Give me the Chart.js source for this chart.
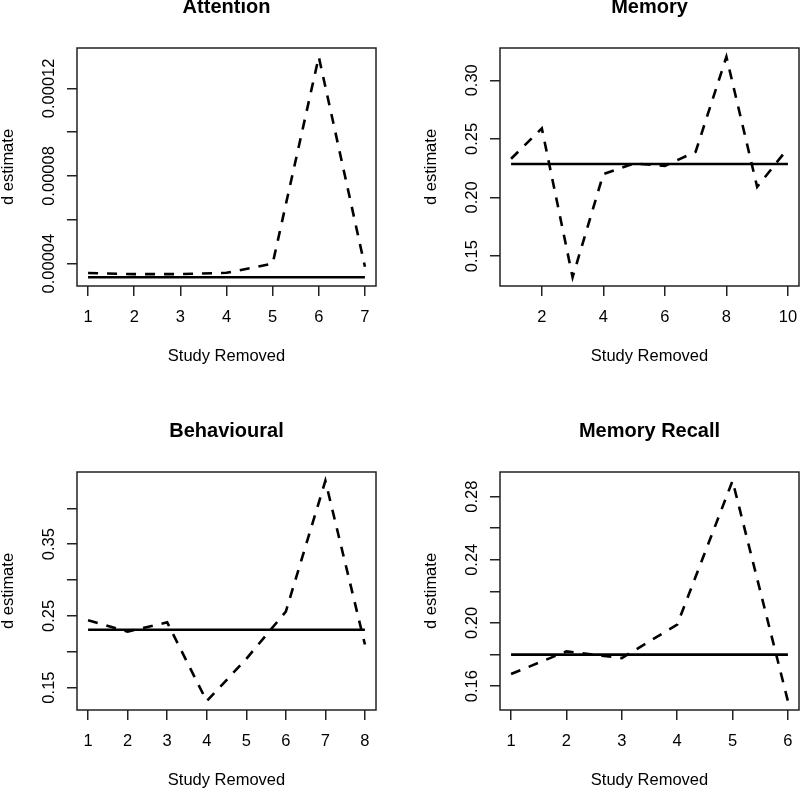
<!DOCTYPE html>
<html>
<head>
<meta charset="utf-8">
<script src="https://cdn.jsdelivr.net/npm/chart.js@4"></script>
<style>
  html, body { margin: 0; padding: 0; background: #fff; }
  #wrap { position: relative; width: 800px; height: 790px; overflow: hidden; }
  #wrap canvas { position: absolute; }
</style>
</head>
<body>
<div id="wrap">
  <canvas id="attention" width="400" height="400" style="left:0;top:-12px"></canvas>
  <canvas id="memory" width="400" height="400" style="left:423px;top:-12px"></canvas>
  <canvas id="behavioural" width="400" height="400" style="left:0;top:412px"></canvas>
  <canvas id="recall" width="400" height="400" style="left:423px;top:412px"></canvas>
</div>
<script>
// Data (d estimate with one study removed, plus overall estimate) ---------------
const attentionStudy = [1, 2, 3, 4, 5, 6, 7];
const attentionLeaveOut = [0.0000357, 0.0000352, 0.0000352, 0.0000358, 0.0000400, 0.0001344, 0.0000386];
const attentionOverall = 0.0000338;
const attentionXTicks = [1, 2, 3, 4, 5, 6, 7];
const attentionYTicks = [0.00004, 0.00006, 0.00008, 0.00010, 0.00012];
const attentionYLabels = ['0.00004', '', '0.00008', '', '0.00012'];

const memoryStudy = [1, 2, 3, 4, 5, 6, 7, 8, 9, 10];
const memoryLeaveOut = [0.233, 0.259, 0.132, 0.220, 0.229, 0.227, 0.239, 0.320, 0.209, 0.242];
const memoryOverall = 0.2285;
const memoryXTicks = [2, 4, 6, 8, 10];
const memoryYTicks = [0.15, 0.20, 0.25, 0.30];
const memoryYLabels = ['0.15', '0.20', '0.25', '0.30'];

const behaviouralStudy = [1, 2, 3, 4, 5, 6, 7, 8];
const behaviouralLeaveOut = [0.244, 0.228, 0.241, 0.131, 0.190, 0.256, 0.4385, 0.210];
const behaviouralOverall = 0.2306;
const behaviouralXTicks = [1, 2, 3, 4, 5, 6, 7, 8];
const behaviouralYTicks = [0.15, 0.20, 0.25, 0.30, 0.35, 0.40];
const behaviouralYLabels = ['0.15', '', '0.25', '', '0.35', ''];

const recallStudy = [1, 2, 3, 4, 5, 6];
const recallLeaveOut = [0.1677, 0.182, 0.1778, 0.199, 0.290, 0.1505];
const recallOverall = 0.180;
const recallXTicks = [1, 2, 3, 4, 5, 6];
const recallYTicks = [0.16, 0.18, 0.20, 0.22, 0.24, 0.26, 0.28];
const recallYLabels = ['0.16', '', '0.20', '', '0.24', '', '0.28'];

// ----------------------------------------------------------------------------------

const FONT = '"Liberation Sans", Arial, Helvetica, sans-serif';
const INK = '#222';
const TXT = 16.5;
Chart.defaults.font.family = FONT;
Chart.defaults.color = '#000';

// R-style axis range: data range stretched by 4% on each side
function paddedRange(values) {
  const lo = Math.min(...values);
  const hi = Math.max(...values);
  const pad = (hi - lo) * 0.04;
  return [lo - pad, hi + pad];
}

// box around the plot region and rotated y tick labels (R's las = 0)
const rFrame = {
  id: 'rFrame',
  afterDraw(chart, args, opts) {
    const { ctx, chartArea: a } = chart;
    const yScale = chart.scales.y;
    ctx.save();
    ctx.strokeStyle = INK;
    ctx.lineWidth = 1.5;
    ctx.strokeRect(a.left, a.top, a.right - a.left, a.bottom - a.top);
    ctx.fillStyle = '#000';
    ctx.font = TXT + 'px ' + FONT;
    ctx.textAlign = 'center';
    ctx.textBaseline = 'alphabetic';
    opts.labels.forEach((txt, i) => {
      if (!txt) return;
      const py = yScale.getPixelForValue(opts.ticks[i]);
      ctx.save();
      ctx.translate(a.left - 23, py);
      ctx.rotate(-Math.PI / 2);
      ctx.fillText(txt, 0, 0);
      ctx.restore();
    });
    ctx.restore();
  }
};

function makePanel(id, title, study, leaveOut, overall, xTicks, yTicks, yLabels) {
  const [xMin, xMax] = paddedRange(study);
  const [yMin, yMax] = paddedRange(leaveOut.concat([overall]));
  const first = study[0];
  const last = study[study.length - 1];

  new Chart(document.getElementById(id).getContext('2d'), {
    type: 'line',
    data: {
      datasets: [{
        data: study.map((s, i) => ({ x: s, y: leaveOut[i] })),
        borderColor: '#000',
        borderWidth: 2.6,
        borderDash: [10, 9],
        pointRadius: 0,
        tension: 0,
        fill: false
      }, {
        data: [{ x: first, y: overall }, { x: last, y: overall }],
        borderColor: '#000',
        borderWidth: 2.6,
        pointRadius: 0,
        fill: false
      }]
    },
    options: {
      responsive: false,
      animation: false,
      devicePixelRatio: 1,
      layout: { padding: { left: 0, right: 24, top: 0, bottom: 0 } },
      plugins: {
        legend: { display: false },
        tooltip: { enabled: false },
        title: {
          display: true,
          text: title,
          fullSize: false,
          color: '#000',
          font: { size: 20, weight: 'bold' },
          padding: { top: 7.5, bottom: 28.5 }
        },
        rFrame: { ticks: yTicks, labels: yLabels }
      },
      scales: {
        x: {
          type: 'linear',
          min: xMin,
          max: xMax,
          afterBuildTicks: s => { s.ticks = xTicks.map(v => ({ value: v })); },
          afterFit: s => { s.height = 102; },
          ticks: { font: { size: TXT }, color: '#000', padding: 11.1, maxRotation: 0, autoSkip: false },
          grid: { drawOnChartArea: false, drawTicks: true, tickLength: 10, color: INK, lineWidth: 1.5 },
          border: { display: false },
          title: { display: true, text: 'Study Removed', font: { size: TXT }, color: '#000', padding: { top: 0, bottom: 21.9 } }
        },
        y: {
          type: 'linear',
          min: yMin,
          max: yMax,
          afterBuildTicks: s => { s.ticks = yTicks.map(v => ({ value: v })); },
          afterFit: s => { s.width = 77; },
          ticks: { display: false },
          grid: { drawOnChartArea: false, drawTicks: true, tickLength: 10, color: INK, lineWidth: 1.5 },
          border: { display: false },
          title: { display: true, text: 'd estimate', font: { size: TXT }, color: '#000', padding: { top: -1.4, bottom: 0 } }
        }
      }
    },
    plugins: [rFrame]
  });
}

makePanel('attention', 'Attention', attentionStudy, attentionLeaveOut, attentionOverall,
  attentionXTicks, attentionYTicks, attentionYLabels);
makePanel('memory', 'Memory', memoryStudy, memoryLeaveOut, memoryOverall,
  memoryXTicks, memoryYTicks, memoryYLabels);
makePanel('behavioural', 'Behavioural', behaviouralStudy, behaviouralLeaveOut, behaviouralOverall,
  behaviouralXTicks, behaviouralYTicks, behaviouralYLabels);
makePanel('recall', 'Memory Recall', recallStudy, recallLeaveOut, recallOverall,
  recallXTicks, recallYTicks, recallYLabels);
</script>
</body>
</html>
